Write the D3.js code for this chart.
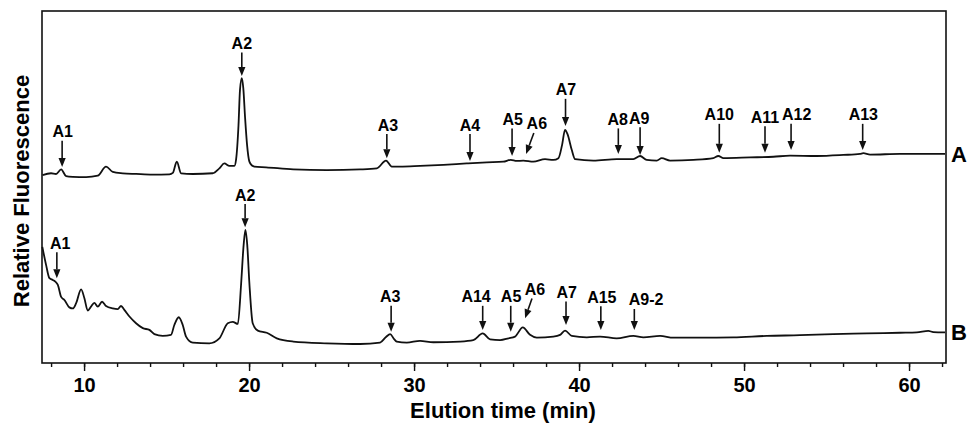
<!DOCTYPE html>
<html lang="en">
<head>
  <meta charset="UTF-8">
  <title>Elution profile</title>
  <script src="https://d3js.org/d3.v7.min.js"></script>
  <style>
    body { margin: 0; background: #fff; }
    svg text { font-family: "Liberation Sans", Arial, sans-serif; font-weight: bold; fill: #000; }
    .trace { fill: none; stroke: #111; stroke-width: 1.8; stroke-linejoin: round; }
    .frame { fill: none; stroke: #111; stroke-width: 1.6; }
    .axis path { display: none; }
    .axis line { stroke: #111; stroke-width: 1.4; }
  </style>
</head>
<body>
  <svg width="972" height="424"></svg>

  <script>
    // elution time (min), relative fluorescence (arbitrary 0-100)
    const traceA = [
      [7.48,53.4],[8.0,53.9],[8.3,53.7],[8.61,55.0],[8.91,53.1],[9.32,52.9],[10.12,52.8],[10.83,53.2],
      [11.33,55.8],[11.74,54.3],[12.35,53.9],[13.15,53.7],[14.16,53.5],[15.17,53.6],[15.38,54.0],
      [15.62,57.2],[15.88,53.9],[16.59,53.7],[17.8,53.9],[18.2,55.3],[18.5,56.7],[18.81,56.0],
      [19.11,56.0],[19.21,57.7],[19.36,67.6],[19.45,77.6],[19.56,80.9],[19.65,78.1],[19.76,69.6],
      [19.88,61.9],[20.02,57.2],[20.18,56.1],[20.32,55.8],[21.03,55.6],[22.68,55.0],[24.71,54.8],
      [26.73,55.0],[27.74,55.3],[28.3,57.5],[28.65,55.8],[29.15,55.8],[30.36,56.0],[31.78,56.3],
      [33.19,56.7],[34.41,57.0],[35.41,57.2],[35.86,57.7],[36.22,57.4],[36.62,57.5],[37.23,57.2],
      [37.94,57.9],[38.44,57.7],[38.75,58.2],[38.97,61.9],[39.15,66.2],[39.3,65.0],[39.56,60.5],
      [39.76,57.9],[40.87,57.5],[42.28,57.9],[43.29,57.9],[43.7,58.8],[44.1,57.7],[44.71,57.5],
      [45.01,58.2],[45.52,57.5],[46.93,57.7],[48.14,58.2],[48.44,58.8],[48.75,58.2],[50.36,58.4],
      [51.78,58.6],[52.79,58.9],[54.41,58.8],[56.02,59.1],[57.03,59.4],[57.23,59.6],[57.64,59.2],
      [59.45,59.4],[62.18,59.4]
    ];

    const traceB = [
      [7.47,33.0],[7.7,27.8],[7.9,24.1],[8.1,23.6],[8.26,23.1],[8.41,22.2],[8.61,18.8],[8.81,17.9],
      [9.11,15.8],[9.32,15.5],[9.52,17.0],[9.82,20.9],[10.02,18.4],[10.22,14.9],[10.42,16.0],
      [10.62,17.1],[10.83,16.0],[11.09,17.4],[11.33,16.2],[11.74,15.5],[12.04,15.3],[12.24,16.2],
      [12.44,15.1],[12.75,13.2],[13.15,11.3],[13.56,9.9],[13.96,9.4],[14.26,8.2],[14.77,7.7],
      [15.27,8.0],[15.47,10.8],[15.74,13.0],[15.98,10.8],[16.18,7.5],[16.59,5.8],[17.59,5.6],
      [18.2,7.0],[18.71,11.3],[19.01,11.7],[19.32,11.1],[19.52,22.6],[19.67,33.5],[19.78,37.8],
      [19.89,33.5],[20.02,22.6],[20.22,11.3],[20.53,9.2],[21.07,8.6],[21.68,7.0],[22.68,6.1],
      [24.71,5.6],[26.73,5.4],[27.94,5.8],[28.3,7.4],[28.55,8.2],[28.79,6.8],[28.95,6.1],
      [29.56,5.8],[30.36,6.3],[31.17,5.9],[32.79,6.1],[33.59,6.5],[34.16,8.4],[34.61,6.7],
      [35.21,6.5],[35.72,7.0],[36.12,7.5],[36.59,10.1],[37.03,8.0],[37.44,7.2],[38.44,7.5],
      [38.85,8.0],[39.15,9.2],[39.56,7.7],[40.47,7.3],[41.27,7.5],[42.28,7.0],[43.29,7.7],
      [43.9,7.3],[44.91,7.7],[45.72,7.2],[47.33,7.2],[49.35,7.3],[51.38,7.7],[53.39,7.9],
      [55.41,8.2],[57.44,8.4],[59.45,8.6],[60.47,8.7],[61.17,9.1],[61.47,8.8],[62.18,8.7]
    ];

    // peak marks: name, arrow tip time, tip level, label time, label level
    const peaksA = [
      ["A1", 8.67, 55.7, 8.71, 65.7],
      ["A2", 19.56, 81.5, 19.56, 90.8],
      ["A3", 28.35, 58.2, 28.42, 67.6],
      ["A4", 33.39, 57.4, 33.39, 67.6],
      ["A5", 35.94, 58.8, 35.98, 69.2],
      ["A6", 36.79, 59.4, 37.44, 67.9],
      ["A7", 39.18, 67.3, 39.21, 77.6],
      ["A8", 42.38, 59.4, 42.34, 69.2],
      ["A9", 43.70, 59.1, 43.64, 69.5],
      ["A10", 48.50, 59.7, 48.50, 70.5],
      ["A11", 51.27, 59.7, 51.27, 69.8],
      ["A12", 52.85, 60.5, 53.19, 70.5],
      ["A13", 57.19, 60.5, 57.23, 70.5]
    ];

    const peaksB = [
      ["A1", 8.35, 24.1, 8.55, 34.0],
      ["A2", 19.76, 38.6, 19.76, 47.7],
      ["A3", 28.61, 8.9, 28.55, 18.8],
      ["A14", 34.16, 9.4, 33.76, 18.8],
      ["A5", 35.86, 8.9, 35.88, 18.8],
      ["A6", 36.73, 12.7, 37.33, 20.9],
      ["A7", 39.21, 10.8, 39.25, 20.0],
      ["A15", 41.32, 9.4, 41.38, 18.7],
      ["A9-2", 43.35, 9.4, 44.06, 17.9]
    ];

    const slanted = ["A6"];
    const majorTicks = [10, 20, 30, 40, 50, 60];
    const minorTicks = d3.range(8, 63, 2);

    const svg = d3.select("svg");
    const box = {left: 42, right: 946, top: 11, bottom: 363};

    const x = d3.scaleLinear().domain([7.45, 62.24]).range([box.left, box.right]);
    const y = d3.scaleLinear().domain([0, 100]).range([box.bottom, box.top]);

    const line = d3.line()
      .x(d => x(d[0]))
      .y(d => y(d[1]))
      .curve(d3.curveMonotoneX);

    // axes: minor ticks every 2 min, longer ticks with labels every 10
    svg.append("g")
      .attr("class", "axis")
      .attr("transform", `translate(0,${box.bottom})`)
      .call(d3.axisBottom(x).tickValues(minorTicks).tickSize(4).tickFormat(""));

    const xAxis = svg.append("g")
      .attr("class", "axis")
      .attr("transform", `translate(0,${box.bottom})`)
      .call(d3.axisBottom(x).tickValues(majorTicks).tickSize(8).tickPadding(7));
    xAxis.selectAll("text").style("font-size", "20px");

    svg.append("rect")
      .attr("class", "frame")
      .attr("x", box.left)
      .attr("y", box.top)
      .attr("width", box.right - box.left)
      .attr("height", box.bottom - box.top);

    svg.append("text")
      .attr("x", (box.left + box.right) / 2 + 9)
      .attr("y", 418)
      .attr("text-anchor", "middle")
      .style("font-size", "22px")
      .text("Elution time (min)");

    svg.append("text")
      .attr("transform", `translate(29,${(box.top + box.bottom) / 2 + 4}) rotate(-90)`)
      .attr("text-anchor", "middle")
      .style("font-size", "22px")
      .text("Relative Fluorescence");

    [[traceA, "A"], [traceB, "B"]].forEach(([data, name]) => {
      svg.append("path")
        .datum(data)
        .attr("class", "trace")
        .attr("d", line);

      const last = data[data.length - 1];
      svg.append("text")
        .attr("x", box.right + 5)
        .attr("y", y(last[1]) + 8)
        .style("font-size", "22px")
        .text(name);
    });

    function drawPeaks(peaks) {
      peaks.forEach(([name, tt, tv, lt, lv]) => {
        const tipX = x(tt), tipY = y(tv);
        const labX = x(lt), labY = y(lv);
        const tailX = slanted.includes(name) ? labX - 3 : tipX;
        const tailY = labY + 9;

        const dx = tipX - tailX, dy = tipY - tailY;
        const len = Math.hypot(dx, dy);
        const ux = dx / len, uy = dy / len;
        const head = 9, half = 3.6;
        const bx = tipX - ux * head, by = tipY - uy * head;

        svg.append("line")
          .attr("x1", tailX).attr("y1", tailY)
          .attr("x2", bx).attr("y2", by)
          .attr("stroke", "#111")
          .attr("stroke-width", 1.6);

        svg.append("path")
          .attr("d", `M${tipX},${tipY}L${bx - uy * half},${by + ux * half}L${bx + uy * half},${by - ux * half}Z`)
          .attr("fill", "#111");

        svg.append("text")
          .attr("x", labX)
          .attr("y", labY + 5.5)
          .attr("text-anchor", "middle")
          .style("font-size", "16px")
          .text(name);
      });
    }

    drawPeaks(peaksA);
    drawPeaks(peaksB);
  </script>
</body>
</html>
